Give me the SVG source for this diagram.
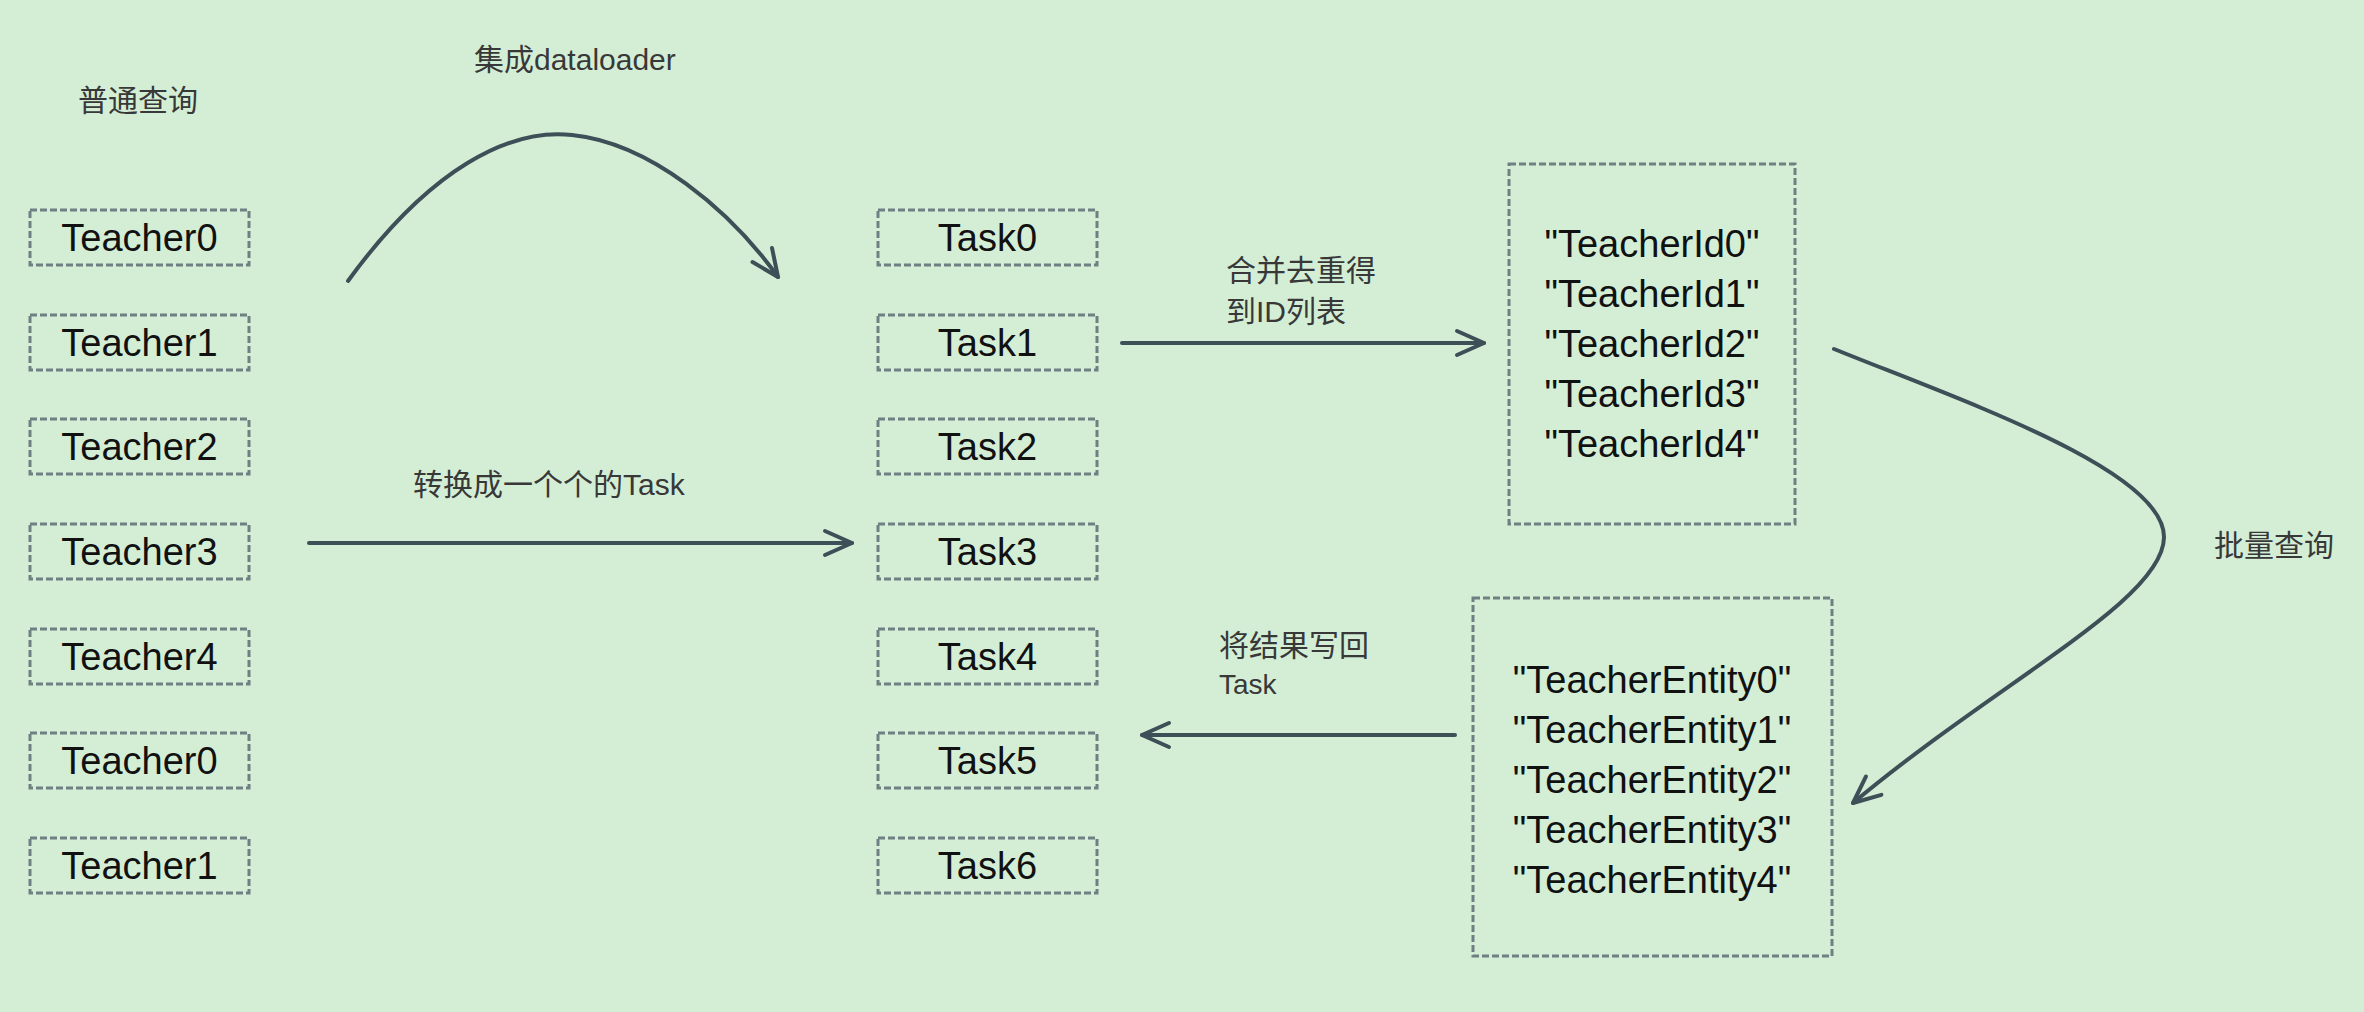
<svg xmlns="http://www.w3.org/2000/svg" width="2364" height="1012" viewBox="0 0 2364 1012">
<style>
.box{fill:none;stroke:#6f8082;stroke-width:3;stroke-dasharray:7 3}
.nt{font-family:"Liberation Sans","Noto Sans CJK SC",sans-serif;font-size:38px;fill:#111;text-anchor:middle}
.lb{font-family:"Liberation Sans","Noto Sans CJK SC",sans-serif;font-size:30px;fill:#383838}
.cn{fill:none;stroke:#3d4f57;stroke-width:4;stroke-linecap:round}
</style>
<defs>
<marker id="arr" markerUnits="userSpaceOnUse" markerWidth="40" markerHeight="40" refX="0" refY="0" orient="auto" overflow="visible">
<path d="M -27 -12 L 0 0 L -27 12" fill="none" stroke="#3d4f57" stroke-width="4" stroke-linecap="round" stroke-linejoin="round"/>
</marker>
</defs>
<rect width="2364" height="1012" fill="#d4eed6"/>

<g id="labels">
<text class="lb" x="78" y="111">普通查询</text>
<text class="lb" x="474" y="70">集成dataloader</text>
<text class="lb" x="413" y="495">转换成一个个的Task</text>
<text class="lb" x="1226" y="281">合并去重得</text>
<text class="lb" x="1226" y="322">到ID列表</text>
<text class="lb" x="1219" y="656">将结果写回</text>
<text class="lb" x="1219" y="694" style="font-size:28px">Task</text>
<text class="lb" x="2214" y="556">批量查询</text>
</g>

<g id="teacher0"><rect class="box" x="30" y="210" width="219" height="55"/><text class="nt" x="139.5" y="251">Teacher0</text></g>
<g id="teacher1"><rect class="box" x="30" y="315" width="219" height="55"/><text class="nt" x="139.5" y="356">Teacher1</text></g>
<g id="teacher2"><rect class="box" x="30" y="419" width="219" height="55"/><text class="nt" x="139.5" y="460">Teacher2</text></g>
<g id="teacher3"><rect class="box" x="30" y="524" width="219" height="55"/><text class="nt" x="139.5" y="565">Teacher3</text></g>
<g id="teacher4"><rect class="box" x="30" y="629" width="219" height="55"/><text class="nt" x="139.5" y="670">Teacher4</text></g>
<g id="teacher0b"><rect class="box" x="30" y="733" width="219" height="55"/><text class="nt" x="139.5" y="774">Teacher0</text></g>
<g id="teacher1b"><rect class="box" x="30" y="838" width="219" height="55"/><text class="nt" x="139.5" y="879">Teacher1</text></g>

<g id="task0"><rect class="box" x="878" y="210" width="219" height="55"/><text class="nt" x="987.5" y="251">Task0</text></g>
<g id="task1"><rect class="box" x="878" y="315" width="219" height="55"/><text class="nt" x="987.5" y="356">Task1</text></g>
<g id="task2"><rect class="box" x="878" y="419" width="219" height="55"/><text class="nt" x="987.5" y="460">Task2</text></g>
<g id="task3"><rect class="box" x="878" y="524" width="219" height="55"/><text class="nt" x="987.5" y="565">Task3</text></g>
<g id="task4"><rect class="box" x="878" y="629" width="219" height="55"/><text class="nt" x="987.5" y="670">Task4</text></g>
<g id="task5"><rect class="box" x="878" y="733" width="219" height="55"/><text class="nt" x="987.5" y="774">Task5</text></g>
<g id="task6"><rect class="box" x="878" y="838" width="219" height="55"/><text class="nt" x="987.5" y="879">Task6</text></g>

<g id="idlist">
<rect class="box" x="1509" y="164" width="286" height="360"/>
<text class="nt" x="1652" y="257">"TeacherId0"</text>
<text class="nt" x="1652" y="307">"TeacherId1"</text>
<text class="nt" x="1652" y="357">"TeacherId2"</text>
<text class="nt" x="1652" y="407">"TeacherId3"</text>
<text class="nt" x="1652" y="457">"TeacherId4"</text>
</g>

<g id="entities">
<rect class="box" x="1473" y="598" width="359" height="358"/>
<text class="nt" x="1652" y="693">"TeacherEntity0"</text>
<text class="nt" x="1652" y="743">"TeacherEntity1"</text>
<text class="nt" x="1652" y="793">"TeacherEntity2"</text>
<text class="nt" x="1652" y="843">"TeacherEntity3"</text>
<text class="nt" x="1652" y="893">"TeacherEntity4"</text>
</g>

<g id="connectors">
<path class="cn" d="M 348 281 C 430 168, 510 128, 572 135 C 650 143, 730 210, 778 277" marker-end="url(#arr)"/>
<path class="cn" d="M 309 543 L 852 543" marker-end="url(#arr)"/>
<path class="cn" d="M 1122 343 L 1484 343" marker-end="url(#arr)"/>
<path class="cn" d="M 1834 349 C 1960 400, 2164 470, 2164 537 C 2164 600, 2000 680, 1853 803" marker-end="url(#arr)"/>
<path class="cn" d="M 1455 735 L 1142 735" marker-end="url(#arr)"/>
</g>
</svg>
